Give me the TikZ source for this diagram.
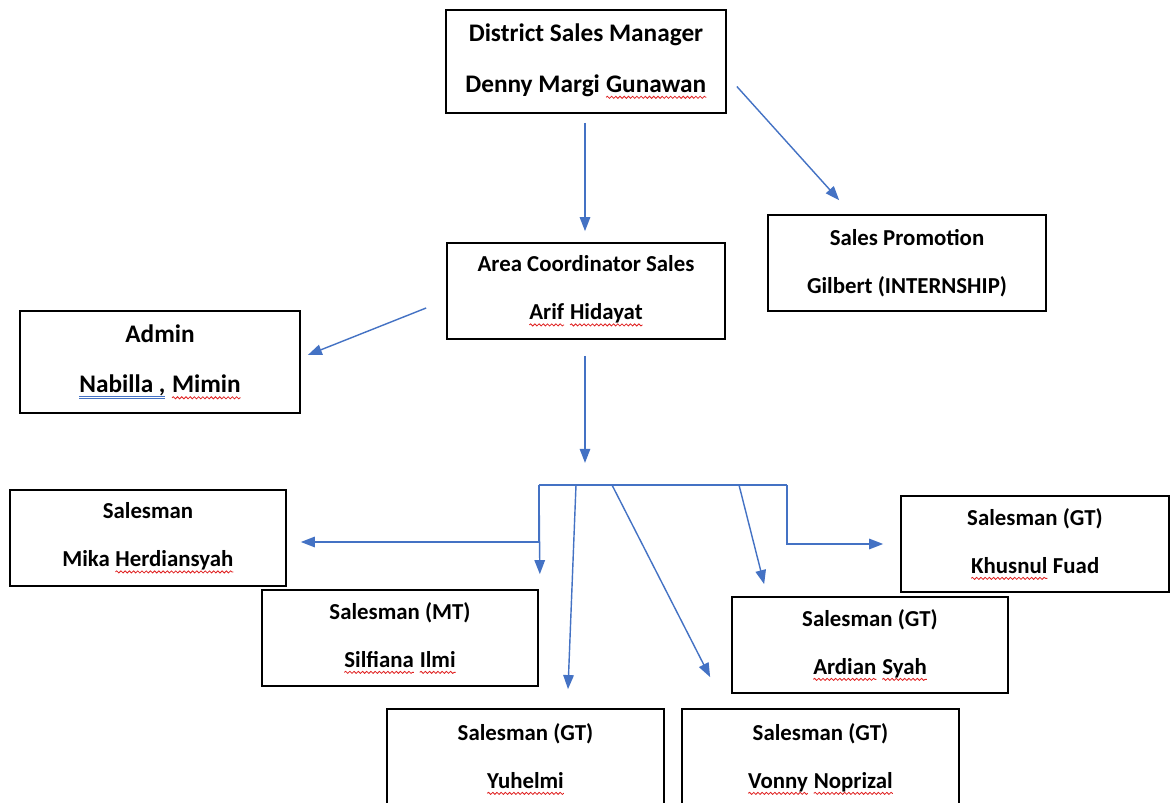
\documentclass[tikz,border=0pt]{standalone}
\usepackage{fontspec}
\setmainfont{Carlito}
\usetikzlibrary{arrows.meta,calc,decorations.pathmorphing}
\definecolor{wordblue}{HTML}{4472C4}
\definecolor{sqred}{HTML}{E02020}
\tikzset{wordnode/.style={shape=rectangle,draw=none,fill=none,inner sep=0pt,outer sep=0pt,minimum width=0pt,minimum height=0pt,execute at begin node={},anchor=base}}
\newcommand\sq[1]{\tikz[baseline=(w.base)]{\node[wordnode](w){#1};\draw[sqred,line width=0.45pt,decorate,decoration={snake,amplitude=0.6pt,segment length=2.4pt}] ([yshift=-3pt]w.base west) -- ([yshift=-3pt]w.base east);}}
\newcommand\dul[1]{\tikz[baseline=(w.base)]{\node[wordnode](w){#1};\draw[wordblue,line width=0.5pt] ([yshift=-2.2pt]w.base west) -- ([yshift=-2.2pt]w.base east) ([yshift=-3.6pt]w.base west) -- ([yshift=-3.6pt]w.base east);}}
\begin{document}
\begin{tikzpicture}[x=0.02cm,y=-0.02cm,
  box/.style={draw, line width=1pt, inner sep=0pt, align=center,
    execute at begin node={\rule{0pt}{13pt}},
    font=\bfseries\fontsize{13}{27.3}\selectfont},
  bigbox/.style={box, execute at begin node={\rule{0pt}{13pt}},
    font=\bfseries\fontsize{14.4}{28.5}\selectfont},
  conn/.style={draw=wordblue, line width=0.8pt},
  arr/.style={conn, -{Triangle[length=8pt,width=6pt]}}]
\fill[white] (0,0) rectangle (1170,803);
\clip (0,0) rectangle (1170,803);

\node[bigbox, minimum width=5.6cm, minimum height=2.06cm] (dsm) at (586,61.5)
  {District Sales Manager\\Denny Margi \sq{Gunawan}};
\node[box, minimum width=5.56cm, minimum height=1.92cm] (sp) at (907,263)
  {Sales Promotion\\Gilbert (INTERNSHIP)};
\node[box, minimum width=5.56cm, minimum height=1.92cm] (ac) at (586,291)
  {Area Coordinator Sales\\\sq{Arif} \sq{Hidayat}};
\node[bigbox, execute at begin node={}, minimum width=5.6cm, minimum height=2.04cm] (admin) at (160,362)
  {Admin\\\dul{Nabilla ,} \sq{Mimin}};
\node[box, execute at begin node={\rule{0pt}{14.5pt}}, minimum width=5.52cm, minimum height=1.92cm] (mika) at (148,538)
  {Salesman\\Mika \sq{Herdiansyah}};
\node[box, minimum width=5.36cm, minimum height=1.92cm] (khus) at (1035,544)
  {Salesman (GT)\\\sq{Khusnul} Fuad};
\node[box, minimum width=5.52cm, minimum height=1.92cm] (silf) at (400,638)
  {Salesman (MT)\\\sq{Silfiana} \sq{Ilmi}};
\node[box, minimum width=5.52cm, minimum height=1.92cm] (ard) at (870,645)
  {Salesman (GT)\\\sq{Ardian} \sq{Syah}};
\node[box, minimum width=5.54cm, minimum height=2.0cm] (yuh) at (525.5,759)
  {Salesman (GT)\\\sq{Yuhelmi}};
\node[box, minimum width=5.54cm, minimum height=2.0cm] (von) at (820.5,759)
  {Salesman (GT)\\\sq{Vonny} \sq{Noprizal}};

\coordinate (busL) at (539,485);
\coordinate (busR) at (787,485);

\draw[arr] ($(dsm.south)+(-1,9)$) -- ($(ac.north)+(-1,-11)$);
\draw[arr] ($(dsm.east)+(10,25)$) -- ($(sp.north west)+(72,-14)$);
\draw[arr] ($(ac.west)+(-20,17)$) -- ($(admin.east)+(7,-7)$);
\draw[arr] ($(ac.south)+(-1,16)$) -- ($(ac.south)+(-1,123)$);
\draw[conn] (busL) -- (busR);
\draw[arr] (busL) |- ($(mika.east)+(14,4)$);
\draw[arr] (busL) -- ($(silf.north east)+(1,-15)$);
\draw[arr] ($(busL)+(37,0)$) -- ($(yuh.north)+(42.5,-19)$);
\draw[arr] ($(busL)+(73,0)$) -- ($(von.north west)+(29,-31)$);
\draw[arr] ($(busL)+(200,0)$) -- ($(ard.north west)+(33,-12)$);
\draw[arr] (busR) |- ($(khus.west)+(-17,0)$);
\end{tikzpicture}
\end{document}
